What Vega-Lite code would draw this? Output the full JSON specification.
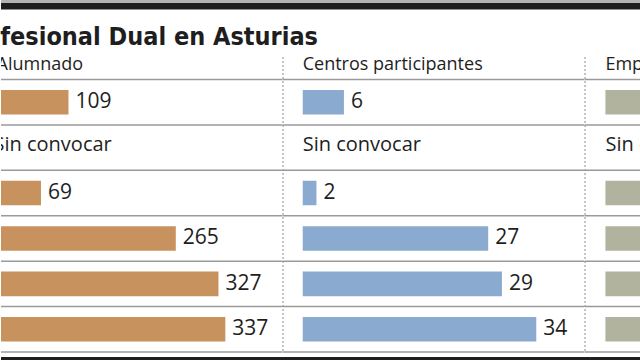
{
  "$schema": "https://vega.github.io/schema/vega-lite/v6.json",
  "padding": 0,
  "background": "white",
  "spacing": 0,
  "config": {"view": {"stroke": null}, "font": "Open Sans"},
  "datasets": {
    "fp": [
      {"curso": "2012-13", "alumnado": 109, "centros": 6, "empresas": 42, "nota": null},
      {"curso": "2013-14", "alumnado": null, "centros": null, "empresas": null, "nota": "Sin convocar"},
      {"curso": "2014-15", "alumnado": 69, "centros": 2, "empresas": 28, "nota": null},
      {"curso": "2015-16", "alumnado": 265, "centros": 27, "empresas": 150, "nota": null},
      {"curso": "2016-17", "alumnado": 327, "centros": 29, "empresas": 181, "nota": null},
      {"curso": "2017-18", "alumnado": 337, "centros": 34, "empresas": 196, "nota": null}
    ],
    "marco": [{"parte": "banda"}]
  },
  "vconcat": [
    {"width": 640, "height": 3, "view": {"fill": "#b3b3b3", "stroke": null}, "data": {"name": "marco"}, "mark": {"type": "text", "text": "", "fontSize": 0}, "encoding": {}},
    {"width": 640, "height": 6.5, "view": {"fill": "#1e1e1e", "stroke": null}, "data": {"name": "marco"}, "mark": {"type": "text", "text": "", "fontSize": 0}, "encoding": {}},
    {"width": 640, "height": 15, "data": {"name": "marco"}, "mark": {"type": "text", "text": "", "fontSize": 0}, "encoding": {}},
    {
      "title": {"text": "fesional Dual en Asturias", "anchor": "start", "fontSize": 25, "font": "Liberation Sans Narrow, DejaVu Sans Condensed, sans-serif", "fontWeight": "bold", "color": "#1e1e1e", "offset": 5.5},
      "spacing": 0,
      "bounds": "flush",
      "hconcat": [
        {
          "width": 281.5, "height": 296,
          "data": {"name": "fp"},
          "layer": [
            {"mark": {"type": "rule", "color": "#9a9a9a", "strokeWidth": 1.5}, "encoding": {"y": {"field": "curso", "type": "nominal", "bandPosition": 0, "axis": null, "sort": null, "scale": {"domain": ["2012-13", "2013-14", "2014-15", "2015-16", "2016-17", "2017-18"], "paddingInner": 0, "paddingOuter": 0.2587, "align": 0.957}}}},
            {"transform": [{"filter": "datum.curso == '2017-18'"}], "mark": {"type": "rule", "color": "#9a9a9a", "strokeWidth": 1.5}, "encoding": {"y": {"field": "curso", "type": "nominal", "bandPosition": 1, "axis": null, "sort": null}}},
            {"mark": {"type": "bar", "color": "#C8925F", "height": {"band": 0.54}, "clip": true}, "encoding": {"y": {"field": "curso", "type": "nominal", "axis": null, "sort": null}, "x": {"field": "alumnado", "type": "quantitative", "axis": null, "scale": {"domain": [10.9, 420.1], "nice": false, "zero": false}}}},
            {"transform": [{"filter": "isValid(datum.alumnado)"}], "mark": {"type": "text", "align": "left", "baseline": "middle", "dx": 7, "fontSize": 21, "color": "#1e1e1e"}, "encoding": {"y": {"field": "curso", "type": "nominal", "axis": null, "sort": null}, "x": {"field": "alumnado", "type": "quantitative", "axis": null}, "text": {"field": "alumnado", "type": "quantitative"}}},
            {"transform": [{"filter": "isValid(datum.nota)"}], "mark": {"type": "text", "align": "left", "baseline": "middle", "dy": -3, "fontSize": 20, "color": "#1e1e1e", "clip": true}, "encoding": {"y": {"field": "curso", "type": "nominal", "axis": null, "sort": null}, "x": {"datum": 0, "type": "quantitative", "axis": null}, "text": {"field": "nota", "type": "nominal"}}},
            {"transform": [{"filter": "datum.curso == '2012-13'"}], "mark": {"type": "text", "align": "left", "baseline": "alphabetic", "dy": -9.5, "dx": 3, "fontSize": 18, "color": "#1e1e1e", "clip": true, "text": "Alumnado"}, "encoding": {"x": {"datum": 0, "type": "quantitative", "axis": null}, "y": {"field": "curso", "type": "nominal", "bandPosition": 0, "axis": null, "sort": null}}}
          ]
        },
        {
          "width": 301.5, "height": 296,
          "data": {"name": "fp"},
          "layer": [
            {"mark": {"type": "rule", "color": "#9a9a9a", "strokeWidth": 1.5}, "encoding": {"y": {"field": "curso", "type": "nominal", "bandPosition": 0, "axis": null, "sort": null, "scale": {"domain": ["2012-13", "2013-14", "2014-15", "2015-16", "2016-17", "2017-18"], "paddingInner": 0, "paddingOuter": 0.2587, "align": 0.957}}}},
            {"transform": [{"filter": "datum.curso == '2017-18'"}], "mark": {"type": "rule", "color": "#9a9a9a", "strokeWidth": 1.5}, "encoding": {"y": {"field": "curso", "type": "nominal", "bandPosition": 1, "axis": null, "sort": null}}},
            {"transform": [{"filter": "datum.curso == '2012-13'"}], "mark": {"type": "rule", "color": "#8a8a8a", "strokeWidth": 1, "strokeDash": [2, 2]}, "encoding": {"x": {"datum": -2.87, "type": "quantitative", "axis": null}}},
            {"mark": {"type": "bar", "color": "#8BAAD0", "height": {"band": 0.54}}, "encoding": {"y": {"field": "curso", "type": "nominal", "axis": null, "sort": null}, "x": {"field": "centros", "type": "quantitative", "axis": null, "scale": {"domain": [-2.87, 41.02], "nice": false, "zero": false}}}},
            {"transform": [{"filter": "isValid(datum.centros)"}], "mark": {"type": "text", "align": "left", "baseline": "middle", "dx": 7, "fontSize": 21, "color": "#1e1e1e"}, "encoding": {"y": {"field": "curso", "type": "nominal", "axis": null, "sort": null}, "x": {"field": "centros", "type": "quantitative", "axis": null}, "text": {"field": "centros", "type": "quantitative"}}},
            {"transform": [{"filter": "isValid(datum.nota)"}], "mark": {"type": "text", "align": "left", "baseline": "middle", "dy": -3, "fontSize": 20, "color": "#1e1e1e"}, "encoding": {"y": {"field": "curso", "type": "nominal", "axis": null, "sort": null}, "x": {"datum": 0, "type": "quantitative", "axis": null}, "text": {"field": "nota", "type": "nominal"}}},
            {"transform": [{"filter": "datum.curso == '2012-13'"}], "mark": {"type": "text", "align": "left", "baseline": "alphabetic", "dy": -9.5, "fontSize": 18, "color": "#1e1e1e", "text": "Centros participantes"}, "encoding": {"x": {"datum": 0, "type": "quantitative", "axis": null}, "y": {"field": "curso", "type": "nominal", "bandPosition": 0, "axis": null, "sort": null}}}
          ]
        },
        {
          "width": 57, "height": 296,
          "data": {"name": "fp"},
          "layer": [
            {"mark": {"type": "rule", "color": "#9a9a9a", "strokeWidth": 1.5}, "encoding": {"y": {"field": "curso", "type": "nominal", "bandPosition": 0, "axis": null, "sort": null, "scale": {"domain": ["2012-13", "2013-14", "2014-15", "2015-16", "2016-17", "2017-18"], "paddingInner": 0, "paddingOuter": 0.2587, "align": 0.957}}}},
            {"transform": [{"filter": "datum.curso == '2017-18'"}], "mark": {"type": "rule", "color": "#9a9a9a", "strokeWidth": 1.5}, "encoding": {"y": {"field": "curso", "type": "nominal", "bandPosition": 1, "axis": null, "sort": null}}},
            {"transform": [{"filter": "datum.curso == '2012-13'"}], "mark": {"type": "rule", "color": "#8a8a8a", "strokeWidth": 1, "strokeDash": [2, 2]}, "encoding": {"x": {"datum": -10, "type": "quantitative", "axis": null}}},
            {"mark": {"type": "bar", "color": "#B1B39F", "height": {"band": 0.54}, "clip": true}, "encoding": {"y": {"field": "curso", "type": "nominal", "axis": null, "sort": null}, "x": {"field": "empresas", "type": "quantitative", "axis": null, "scale": {"domain": [-10, 17.9], "nice": false, "zero": false}}}},
            {"transform": [{"filter": "isValid(datum.nota)"}], "mark": {"type": "text", "align": "left", "baseline": "middle", "dy": -3, "fontSize": 20, "color": "#1e1e1e", "clip": true}, "encoding": {"y": {"field": "curso", "type": "nominal", "axis": null, "sort": null}, "x": {"datum": 0, "type": "quantitative", "axis": null}, "text": {"field": "nota", "type": "nominal"}}},
            {"transform": [{"filter": "datum.curso == '2012-13'"}], "mark": {"type": "text", "align": "left", "baseline": "alphabetic", "dy": -9.5, "fontSize": 18, "color": "#1e1e1e", "clip": true, "text": "Empresas"}, "encoding": {"x": {"datum": 0, "type": "quantitative", "axis": null}, "y": {"field": "curso", "type": "nominal", "bandPosition": 0, "axis": null, "sort": null}}}
          ]
        }
      ]
    },
    {"width": 640, "height": 3, "data": {"name": "marco"}, "mark": {"type": "text", "text": "", "fontSize": 0}, "encoding": {}},
    {"width": 640, "height": 8, "view": {"fill": "#1e1e1e", "stroke": null}, "data": {"name": "marco"}, "mark": {"type": "text", "text": "", "fontSize": 0}, "encoding": {}}
  ]
}
